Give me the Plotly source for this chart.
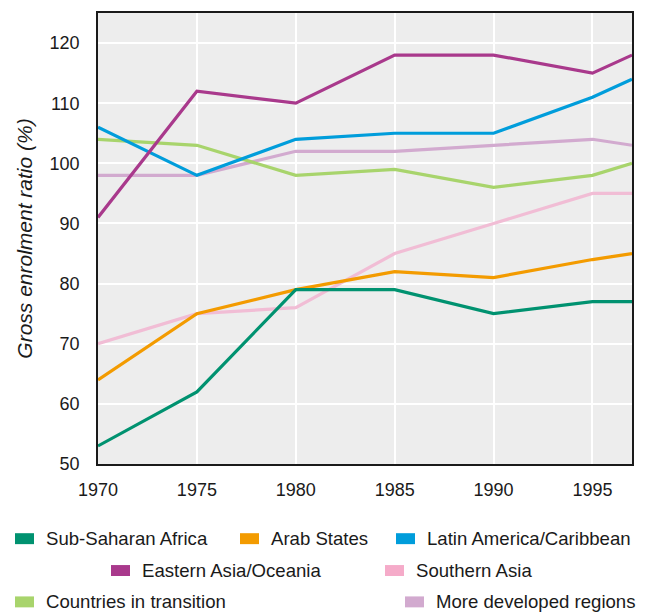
import plotly.graph_objects as go

# Years (last point is 1997)
years = [1970, 1975, 1980, 1985, 1990, 1995, 1997]

# Gross enrolment ratio (%) by region
sub_saharan = [53, 62, 79, 79, 75, 77, 77]
arab_states = [64, 75, 79, 82, 81, 84, 85]
latin_america = [106, 98, 104, 105, 105, 111, 114]
eastern_asia = [91, 112, 110, 118, 118, 115, 118]
southern_asia = [70, 75, 76, 85, 90, 95, 95]
transition = [104, 103, 98, 99, 96, 98, 100]
developed = [98, 98, 102, 102, 103, 104, 103]

x_ticks = [1970, 1975, 1980, 1985, 1990, 1995]
y_ticks = [50, 60, 70, 80, 90, 100, 110, 120]

# name, values, line colour, legend swatch colour
series = [
    ('More developed regions', developed, '#D2AACF', '#D2AACF'),
    ('Southern Asia', southern_asia, '#F1BDD5', '#F5ABC9'),
    ('Countries in transition', transition, '#A8D46C', '#A8D46C'),
    ('Latin America/Caribbean', latin_america, '#009DDB', '#009DDB'),
    ('Eastern Asia/Oceania', eastern_asia, '#A9398C', '#A9398C'),
    ('Arab States', arab_states, '#F39B00', '#F39B00'),
    ('Sub-Saharan Africa', sub_saharan, '#009270', '#009270'),
]

FONT = 'Liberation Sans, Arial, sans-serif'
W, H = 648, 613
L, R, T, B = 98, 632, 11, 464   # plot area in pixels


def px_x(v):
    return (v - L) / (R - L)


def px_y(v):
    return (B - v) / (B - T)


fig = go.Figure()
for name, vals, col, _ in series:
    fig.add_trace(go.Scatter(
        x=years, y=vals, mode='lines', name=name,
        line=dict(color=col, width=3.2),
        showlegend=False
    ))

# Custom legend layout (swatch left edge, row centre), in pixels
legend_pos = {
    'Sub-Saharan Africa': (15, 539),
    'Arab States': (240, 539),
    'Latin America/Caribbean': (396, 539),
    'Eastern Asia/Oceania': (111, 571),
    'Southern Asia': (385, 571),
    'Countries in transition': (15, 602.5),
    'More developed regions': (405, 602.5),
}
for name, vals, col, sw in series:
    px0, py = legend_pos[name]
    fig.add_shape(
        type='rect', xref='paper', yref='paper',
        x0=px_x(px0), x1=px_x(px0 + 19),
        y0=px_y(py + 5.5), y1=px_y(py - 5.5),
        fillcolor=sw, line=dict(width=0)
    )
    fig.add_annotation(
        xref='paper', yref='paper',
        x=px_x(px0 + 29), y=px_y(py),
        text=name, showarrow=False, xanchor='left', yanchor='middle',
        font=dict(family=FONT, size=18.6, color='#1a1a1a')
    )

fig.update_layout(
    width=W, height=H,
    margin=dict(l=L, r=W - R, t=T, b=H - B),
    plot_bgcolor='#EDEDED', paper_bgcolor='white',
    font=dict(family=FONT, color='#1a1a1a'),
    showlegend=False,
)
fig.update_xaxes(
    range=[1970, 1997], tickvals=x_ticks,
    showgrid=True, gridcolor='white', gridwidth=1.5,
    showline=True, linecolor='#1a1a1a', linewidth=1.5, mirror=True,
    ticks='outside', ticklen=9, tickcolor='rgba(0,0,0,0)',
    tickfont=dict(size=18), zeroline=False
)
fig.update_yaxes(
    range=[50, 125], tickvals=y_ticks,
    showgrid=True, gridcolor='white', gridwidth=1.5,
    showline=True, linecolor='#1a1a1a', linewidth=1.5, mirror=True,
    ticks='outside', ticklen=13, tickcolor='rgba(0,0,0,0)',
    tickfont=dict(size=18), zeroline=False,
    title=dict(text='<i>Gross enrolment ratio (%)</i>', font=dict(size=21), standoff=11)
)

# page has a default 8px body margin; remove it so the figure sits at 0,0
fig.write_html("out.html", config={'displayModeBar': False},
               post_script="document.body.style.margin='0';")
